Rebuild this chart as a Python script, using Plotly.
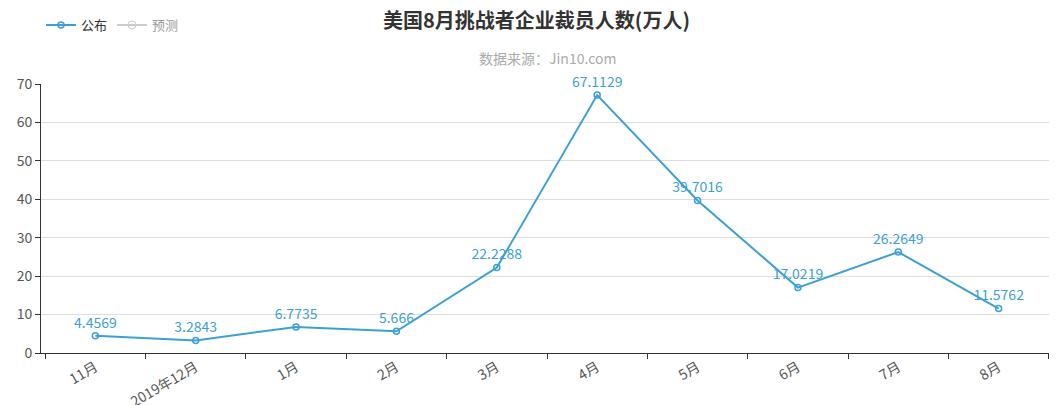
import plotly.graph_objects as go

months = ["11月", "2019年12月", "1月", "2月", "3月", "4月", "5月", "6月", "7月", "8月"]
published = [4.4569, 3.2843, 6.7735, 5.666, 22.2288, 67.1129, 39.7016, 17.0219, 26.2649, 11.5762]
labels = ["4.4569", "3.2843", "6.7735", "5.666", "22.2288", "67.1129", "39.7016", "17.0219", "26.2649", "11.5762"]
forecast = [None] * len(months)

C = "#3d9fd3"
font = "Microsoft YaHei, Noto Sans CJK SC, sans-serif"
fig = go.Figure()
fig.add_trace(go.Scatter(x=months, y=published, name="公布", mode="lines+markers+text",
    text=labels, textposition="top center", textfont=dict(color=C, size=14), cliponaxis=False,
    line=dict(color=C, width=2), marker=dict(symbol="circle-open", size=6, color=C, line=dict(width=1.5))))
fig.add_trace(go.Scatter(x=months, y=forecast, name="预测", mode="lines+markers",
    visible="legendonly", line=dict(color="#999", width=2), marker=dict(symbol="circle-open", size=8)))

fig.update_layout(
    width=1057, height=405, paper_bgcolor="white", plot_bgcolor="white",
    margin=dict(l=33, r=12, t=76, b=60, autoexpand=False), font=dict(family=font, color="#555", size=13),
    title=dict(text="<b>美国8月挑战者企业裁员人数(万人)</b>", x=0.5, xanchor="center", y=0.985, yanchor="top",
               font=dict(size=20, color="#333")),
    legend=dict(orientation="h", x=0, y=0.995, xanchor="left", yanchor="top", yref="container",
                font=dict(size=13, color="#333")),
    showlegend=True,
    annotations=[dict(text="数据来源：Jin10.com", xref="paper", yref="paper", x=0.5, y=1.14,
                      showarrow=False, font=dict(size=14, color="#aaa"))],
    xaxis=dict(type="category", tickson="boundaries", ticks="outside", ticklen=5, tickcolor="#333",
               showline=True, linecolor="#333", linewidth=1, showgrid=False, tickangle=-30,
               tickfont=dict(size=14, color="#555"), automargin=False),
    yaxis=dict(range=[0, 70], dtick=10, ticks="outside", ticklen=5, tickcolor="#333",
               showline=True, linecolor="#333", linewidth=1, gridcolor="#ddd", zeroline=False,
               tickfont=dict(size=14, color="#555"), automargin=False),
)
fig.write_html("out.html")
